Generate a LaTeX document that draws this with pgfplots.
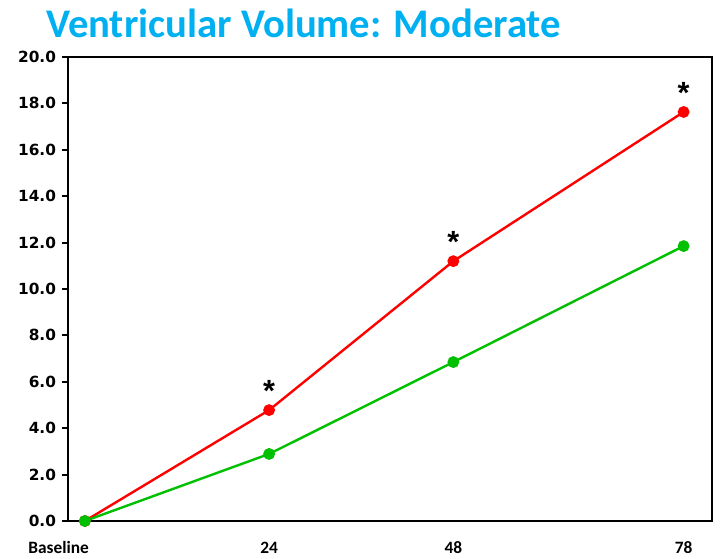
\documentclass[border=0pt]{standalone}
\usepackage{fontspec}
\setmainfont{Carlito}
\newfontfamily\dejavu{DejaVu Sans}
\newfontfamily\arialfont{Liberation Sans}
\usepackage{pgfplots}
\pgfplotsset{compat=1.18}
\definecolor{titleblue}{HTML}{00B0F0}
\definecolor{lred}{HTML}{FF0000}
\definecolor{lgreen}{HTML}{00C000}

\begin{document}
\begin{tikzpicture}
\begin{axis}[
  name=ax,
  scale only axis,
  width=483pt,height=348pt,
  xmin=-2.2,xmax=81.7,
  ymin=0,ymax=20,
  xtick={0,24,48,78},
  xticklabels={\makebox[0pt][r]{Baseline\kern-3pt},24,48,78},
  ytick={0,2,...,20},
  /pgf/number format/assume math mode=true,
  yticklabel={\pgfmathprintnumber[fixed,fixed zerofill,precision=1]{\tick}},
  xticklabel style={font=\bfseries\fontsize{13}{15}\selectfont,yshift=-7.5pt},
  yticklabel style={font=\dejavu\bfseries\fontsize{11.5}{13}\selectfont,xshift=-1pt},
  axis line style={line width=2pt},
  tick style={line width=1.5pt,black},
  tick align=outside,
  x tick style={draw=none},
  major tick length=4.5pt,
  ytick pos=left,
  title={Ventricular Volume: Moderate},
  title style={at={(0,1)},anchor=base west,xshift=-20pt,yshift=8.5pt,
    font=\bfseries\fontsize{30.5}{36}\selectfont,text=titleblue},
  clip=false,
]
\addplot[color=lred,line width=1.8pt,mark=*,mark size=3.5pt]
  coordinates {(0,0) (24,4.78) (48,11.2) (78,17.63)};
\addplot[color=lgreen,line width=1.8pt,mark=*,mark size=3.5pt]
  coordinates {(0,0) (24,2.89) (48,6.85) (78,11.85)};
\addplot[draw=none,mark=none,nodes near coords={\textbf{*}},
  every node near coord/.append style={font=\arialfont\bfseries\fontsize{23}{24}\selectfont,
    text=black,anchor=south,yshift=3pt}]
  coordinates {(24,4.78) (48,11.2) (78,17.63)};
\end{axis}
\path[use as bounding box] ([xshift=-51pt,yshift=-28.5pt]ax.south west)
  rectangle ([xshift=6pt,yshift=42.75pt]ax.north east);
\end{tikzpicture}
\end{document}
